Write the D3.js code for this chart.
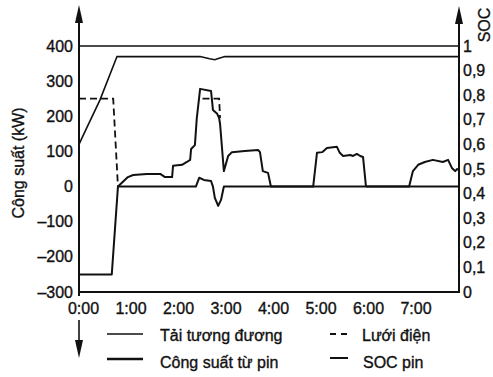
<!DOCTYPE html>
<html>
<head>
<meta charset="utf-8">
<script src="https://cdn.jsdelivr.net/npm/d3@7"></script>
<style>
  body { margin: 0; background: #fff; }
  svg { display: block; }
  text { font-family: "Liberation Sans", Arial, sans-serif; fill: #111; stroke: #111; stroke-width: 0.35px; }
</style>
</head>
<body>
<script>
// hours since 0:00 / kW
var loadTime = [0.82, 1.03, 1.14, 1.43, 1.71, 1.81, 1.96, 1.98, 2.17, 2.27, 2.34, 2.36, 2.44, 2.48, 2.55, 2.78, 2.82, 2.91, 2.95, 2.97, 3.05, 3.14, 3.22, 3.49, 3.77, 3.81, 3.87, 3.98, 4.04, 4.93, 5.01, 5.12, 5.22, 5.43, 5.49, 5.56, 5.71, 5.77, 5.85, 5.92, 5.98, 6.04, 6.06, 6.95, 7.03, 7.14, 7.28, 7.45, 7.66, 7.77, 7.85, 7.92, 7.96, 8.0];
var loadKW   = [0, 27, 33, 36, 36, 27, 27, 59, 62, 70, 76, 107, 118, 195, 278, 272, 218, 207, 195, 178, 44, 87, 98, 101, 104, 98, 44, 39, 0, 0, 96, 98, 110, 113, 96, 87, 90, 87, 93, 87, 84, 2, 0, 0, 44, 62, 70, 76, 70, 76, 53, 44, 50, 47];

var batTime = [0, 0.69, 0.82, 2.46, 2.53, 2.63, 2.78, 2.82, 2.86, 2.93, 2.99, 3.05, 8];
var batKW   = [-250, -250, 0, 0, 25, 19, 16, 0, -32, -55, -38, 0, 0];

// null = gap (hidden under the load curve)
var gridTime = [0, 0.72, 0.82, 0.83, 2.6, 2.95, 2.97];
var gridKW   = [250, 250, 0, null, 250, 250, 195];

var socTime = [0, 0.13, 0.44, 0.8, 2.55, 2.75, 2.86, 2.95, 3.07, 8];
var socVal  = [0.6, 0.654, 0.78, 0.957, 0.957, 0.948, 0.944, 0.95, 0.957, 0.957];

var hourTicks = [0, 1, 2, 3, 4, 5, 6, 7];
var powerTicks = [-300, -200, -100, 0, 100, 200, 300, 400];
var socTicks = [0, 0.1, 0.2, 0.3, 0.4, 0.5, 0.6, 0.7, 0.8, 0.9, 1];

var W = 493, H = 377;
var padL = 79, padR = 459, padT = 46, padB = 292;
var ink = '#111';

var svg = d3.select('body').append('svg').attr('width', W).attr('height', H);

var x = d3.scaleLinear().domain([0, 8]).range([padL, padR]);
var yP = d3.scaleLinear().domain([-300, 400]).range([padB, padT]);
var yS = d3.scaleLinear().domain([0, 1]).range([padB, padT]);

function zip(a, b) {
  return a.map(function(t, i) { return [t, b[i]]; });
}
var lineP = d3.line()
  .defined(function(d) { return d[1] != null; })
  .x(function(d) { return x(d[0]); })
  .y(function(d) { return yP(d[1]); });
var lineS = d3.line()
  .x(function(d) { return x(d[0]); })
  .y(function(d) { return yS(d[1]); });

// top limit line (SOC = 1)
svg.append('path').datum([[0, 1], [8, 1]])
  .attr('d', lineS).attr('fill', 'none').attr('stroke', ink).attr('stroke-width', 1.6);

svg.append('path').datum(zip(socTime, socVal))
  .attr('d', lineS).attr('fill', 'none').attr('stroke', ink).attr('stroke-width', 1.6);

svg.append('path').datum(zip(gridTime, gridKW))
  .attr('d', lineP).attr('fill', 'none').attr('stroke', ink).attr('stroke-width', 1.8)
  .attr('stroke-dasharray', '7,4');

svg.append('path').datum(zip(batTime, batKW))
  .attr('d', lineP).attr('fill', 'none').attr('stroke', ink).attr('stroke-width', 2)
  .attr('stroke-linejoin', 'round');

svg.append('path').datum(zip(loadTime, loadKW))
  .attr('d', lineP).attr('fill', 'none').attr('stroke', ink).attr('stroke-width', 2)
  .attr('stroke-linejoin', 'round');

// axes (labels only, lines drawn below)
var gl = svg.append('g').attr('transform', 'translate(' + padL + ',0)')
  .call(d3.axisLeft(yP).tickValues(powerTicks).tickSize(0).tickPadding(6)
    .tickFormat(function(d) { return String(d).replace('-', '\u2013'); }));
var gr = svg.append('g').attr('transform', 'translate(' + padR + ',0)')
  .call(d3.axisRight(yS).tickValues(socTicks).tickSize(0).tickPadding(4)
    .tickFormat(function(d) { return (d == 0 || d == 1) ? String(d) : d3.format('.1f')(d).replace('.', ','); }));
var gb = svg.append('g').attr('transform', 'translate(0,' + padB + ')')
  .call(d3.axisBottom(x).tickValues(hourTicks).tickSize(0).tickPadding(11)
    .tickFormat(function(d) { return d + ':00'; }));
gb.selectAll('text').attr('dx', 4);
[gl, gr, gb].forEach(function(g) {
  g.select('.domain').remove();
  g.selectAll('text').attr('font-size', 16).attr('fill', ink)
    .attr('font-family', '"Liberation Sans", Arial, sans-serif');
});

svg.append('line').attr('x1', padL).attr('x2', padR).attr('y1', padB).attr('y2', padB)
  .attr('stroke', ink).attr('stroke-width', 2);
svg.append('line').attr('x1', padL).attr('x2', padL).attr('y1', padB + 4).attr('y2', 20)
  .attr('stroke', ink).attr('stroke-width', 2);
svg.append('line').attr('x1', padR).attr('x2', padR).attr('y1', padB + 1).attr('y2', 20)
  .attr('stroke', ink).attr('stroke-width', 2);
svg.append('line').attr('x1', padL).attr('x2', padL).attr('y1', 320).attr('y2', 342)
  .attr('stroke', ink).attr('stroke-width', 1.6);

function arrow(cx, tip, dir) {
  var b = tip + dir * 18;
  svg.append('path')
    .attr('d', 'M' + cx + ',' + tip + 'L' + (cx - 4) + ',' + b + 'L' + (cx + 4) + ',' + b + 'Z')
    .attr('fill', ink);
}
arrow(padL, 5, 1);
arrow(padR, 6, 1);
arrow(padL, 358, -1);

// axis titles
svg.append('text').attr('transform', 'translate(24,163) rotate(-90)')
  .attr('text-anchor', 'middle').attr('font-size', 16).text('Công suất (kW)');
svg.append('text').attr('transform', 'translate(490,25) rotate(-90)')
  .attr('text-anchor', 'middle').attr('font-size', 16).text('SOC');

// legend
var legend = [
  { x: 107, y: 334, w: 36, sw: 1.4, dash: null, tx: 160, ty: 341, label: 'Tải tương đương' },
  { x: 107, y: 359, w: 36, sw: 2.4, dash: null, tx: 160, ty: 368, label: 'Công suất từ pin' },
  { x: 330, y: 334, w: 17, sw: 1.8, dash: '6,5', tx: 362, ty: 341, label: 'Lưới điện' },
  { x: 330, y: 358, w: 18, sw: 2, dash: null, tx: 363, ty: 368, label: 'SOC pin' }
];
var lg = svg.selectAll('g.legend').data(legend).enter().append('g').attr('class', 'legend');
lg.append('line')
  .attr('x1', function(d) { return d.x; })
  .attr('x2', function(d) { return d.x + d.w; })
  .attr('y1', function(d) { return d.y; })
  .attr('y2', function(d) { return d.y; })
  .attr('stroke', ink)
  .attr('stroke-width', function(d) { return d.sw; })
  .attr('stroke-dasharray', function(d) { return d.dash; });
lg.append('text')
  .attr('x', function(d) { return d.tx; })
  .attr('y', function(d) { return d.ty; })
  .attr('font-size', 16)
  .text(function(d) { return d.label; });
</script>
</body>
</html>
